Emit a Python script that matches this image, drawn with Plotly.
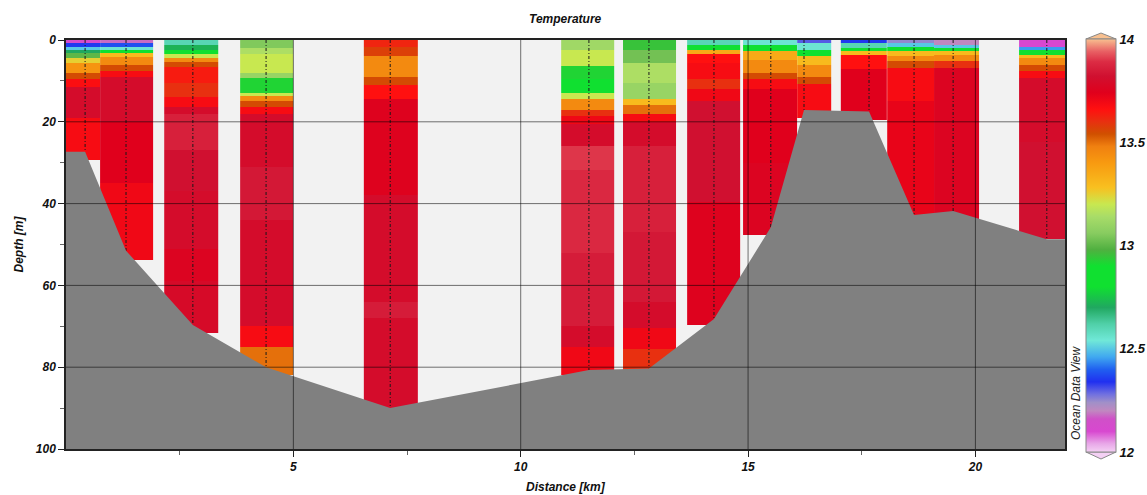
import plotly.graph_objects as go

# ---------------- data ----------------
stations_km = [0.42, 1.32, 2.79, 4.40, 7.13, 11.50, 12.82, 14.25, 15.50, 16.23, 17.66, 18.65, 19.51, 21.57]
bottom_m = [27.3, 51.5, 69.7, 80.0, 90.0, 80.7, 80.3, 68.2, 45.8, 17.1, 17.5, 42.8, 41.8, 48.7]
col_left_km = [0.0, 0.75, 2.16, 3.83, 6.55, 10.89, 12.25, 13.66, 14.89, 16.08, 17.04, 18.06, 19.09, 20.96]
col_right_km = [0.75, 1.91, 3.34, 4.99, 7.74, 12.05, 13.42, 14.82, 16.08, 16.82, 18.06, 19.09, 20.08, 21.97]

# layer boundaries (m) and temperatures (deg C) per station
s1_depth = [0, 0.8, 1.6, 2.4, 3.2, 4.4, 5.6, 8, 9.6, 11.6, 19, 29.3]
s1_temp = [12.12, 12.35, 12.5, 12.7, 13.0, 13.25, 13.42, 13.55, 13.67, 13.8, 13.68]
s2_depth = [0, 0.8, 1.6, 2.4, 3.2, 4.2, 6, 7.5, 9, 20, 35, 53.8]
s2_temp = [12.18, 12.38, 12.55, 12.9, 13.3, 13.45, 13.55, 13.68, 13.8, 13.74, 13.7]
s3_depth = [0, 1.2, 2.5, 3.5, 4.5, 5.5, 6.5, 10.5, 14, 16.5, 18, 27, 37, 51, 59, 71.6]
s3_temp = [12.6, 12.72, 12.9, 13.2, 13.45, 13.55, 13.64, 13.6, 13.68, 13.8, 13.86, 13.82, 13.8, 13.76, 13.79]
s4_depth = [0, 2, 3.5, 8, 9.2, 13, 13.8, 15, 16.3, 18, 31, 44, 55, 70, 75, 82]
s4_temp = [13.05, 13.15, 13.2, 13.1, 12.92, 13.2, 13.45, 13.55, 13.68, 13.8, 13.84, 13.8, 13.8, 13.68, 13.5]
s5_depth = [0, 1.6, 4, 9, 11, 14.4, 38, 64, 68, 90]
s5_temp = [13.62, 13.57, 13.45, 13.55, 13.66, 13.75, 13.8, 13.85, 13.8]
s6_depth = [0, 2.4, 6.4, 9.6, 12.9, 14.5, 17, 18.6, 20.6, 26, 31.7, 52, 70, 75, 82]
s6_temp = [13.12, 13.2, 12.92, 12.85, 13.2, 13.45, 13.6, 13.7, 13.8, 13.9, 13.88, 13.85, 13.8, 13.7]
s7_depth = [0, 2.4, 5.6, 10.5, 14.5, 16, 18, 20, 26, 47, 64, 70.5, 75.5, 81]
s7_temp = [12.95, 13.03, 13.15, 13.1, 13.3, 13.5, 13.68, 13.8, 13.86, 13.84, 13.8, 13.7, 13.6]
s8_depth = [0, 1.2, 2.4, 3.5, 5.6, 9.6, 12, 15, 39.5, 69.7]
s8_temp = [12.6, 12.9, 13.35, 13.66, 13.68, 13.6, 13.7, 13.82, 13.75]
s9_depth = [0, 1.2, 2.8, 4.8, 8, 9.6, 12, 30, 47.7]
s9_temp = [12.55, 12.9, 13.35, 13.45, 13.55, 13.68, 13.74, 13.76]
s10_depth = [0, 0.8, 2.4, 4, 6, 9, 10.8, 19]
s10_temp = [12.3, 12.55, 12.9, 13.3, 13.45, 13.55, 13.68]
s11_depth = [0, 0.8, 2, 2.8, 3.6, 7, 19.6]
s11_temp = [12.35, 12.6, 12.9, 13.3, 13.66, 13.74]
s12_depth = [0, 0.8, 1.6, 2.8, 4, 5.2, 6.8, 15, 45]
s12_temp = [12.25, 12.5, 12.9, 13.3, 13.45, 13.55, 13.68, 13.72]
s13_depth = [0, 1.2, 2, 2.8, 3.6, 5.2, 6.8, 45]
s13_temp = [12.2, 12.5, 12.9, 13.3, 13.45, 13.6, 13.76]
s14_depth = [0, 1.6, 2.4, 3.6, 4.4, 6, 7.6, 9.2, 25, 48.7]
s14_temp = [12.1, 12.45, 12.9, 13.3, 13.45, 13.55, 13.68, 13.8, 13.82]

profile_depths = [s1_depth, s2_depth, s3_depth, s4_depth, s5_depth, s6_depth, s7_depth,
                  s8_depth, s9_depth, s10_depth, s11_depth, s12_depth, s13_depth, s14_depth]
profile_temps = [s1_temp, s2_temp, s3_temp, s4_temp, s5_temp, s6_temp, s7_temp,
                 s8_temp, s9_temp, s10_temp, s11_temp, s12_temp, s13_temp, s14_temp]

x_ticks = [5, 10, 15, 20]
x_minor = [2.5, 7.5, 12.5, 17.5]
y_ticks = [0, 20, 40, 60, 80, 100]
y_minor = [10, 30, 50, 70, 90]
cbar_ticks = [12, 12.5, 13, 13.5, 14]
X_RANGE = [0, 21.97]

odv = [
    [0.00, '#f4d0f4'], [0.02, '#e8a8e8'], [0.05, '#d848d0'], [0.08, '#d050c8'],
    [0.10, '#c088c0'], [0.12, '#a090c8'], [0.14, '#7070e0'], [0.17, '#2030f0'],
    [0.20, '#2060f0'], [0.23, '#40a8f0'], [0.27, '#70e8d8'], [0.31, '#50d0a8'],
    [0.35, '#20a860'], [0.40, '#10e030'], [0.45, '#10e030'], [0.49, '#50b040'],
    [0.53, '#88cc60'], [0.57, '#a8dc68'], [0.60, '#c8e850'], [0.64, '#f8c020'],
    [0.70, '#f89a10'], [0.74, '#f08010'], [0.77, '#d05000'], [0.80, '#e83010'],
    [0.83, '#ff1010'], [0.87, '#e0001c'], [0.91, '#d01030'], [0.945, '#dc2c44'],
    [0.97, '#e86064'], [1.00, '#f8c090'],
]

FONT = "Liberation Sans, Arial, Helvetica, sans-serif"
bi = dict(family=FONT, size=12, color='#111', weight='bold', style='italic')

fig = go.Figure()

# data columns
for left, right, dep, tmp in zip(col_left_km, col_right_km, profile_depths, profile_temps):
    fig.add_trace(go.Heatmap(
        x=[left, right], y=dep, z=[[t] for t in tmp],
        coloraxis='coloraxis', zsmooth=False, hoverinfo='skip'))

# station dotted lines
sx, sy = [], []
for s, b in zip(stations_km, bottom_m):
    sx += [s, s, None]
    sy += [0, b, None]
fig.add_trace(go.Scatter(x=sx, y=sy, mode='lines',
                         line=dict(color='#1a1a1a', width=1, dash='3px,2px,1px,2px'), hoverinfo='skip'))

# bottom topography
bx = [X_RANGE[0]] + stations_km + [X_RANGE[1], X_RANGE[1], X_RANGE[0]]
by = [bottom_m[0]] + bottom_m + [bottom_m[-1], 100, 100]
fig.add_trace(go.Scatter(x=bx, y=by, mode='lines', fill='toself', fillcolor='#808080',
                         line=dict(width=0, color='#808080'), hoverinfo='skip'))

# grid lines above data
shapes = []
for t in x_ticks:
    shapes.append(dict(type='line', xref='x', yref='y', x0=t, x1=t, y0=0, y1=100,
                       line=dict(color='rgba(0,0,0,0.55)', width=1), layer='above'))
for t in y_ticks[1:-1]:
    shapes.append(dict(type='line', xref='x', yref='y', x0=X_RANGE[0], x1=X_RANGE[1], y0=t, y1=t,
                       line=dict(color='rgba(0,0,0,0.55)', width=1), layer='above'))

# colorbar geometry (paper coords)
cb_x0 = (1086 - 66) / 999
cb_x1 = (1116 - 66) / 999
cb_xm = (cb_x0 + cb_x1) / 2
top_base = (449 - 39) / 409
top_tip = (449 - 33) / 409
bot_base = (449 - 452) / 409
bot_tip = (449 - 459) / 409
shapes.append(dict(type='path', xref='paper', yref='paper',
                   path=f'M {cb_x0},{top_base} L {cb_xm},{top_tip} L {cb_x1},{top_base} Z',
                   fillcolor='#f8c090', line=dict(color='#888', width=1), layer='above'))
shapes.append(dict(type='path', xref='paper', yref='paper',
                   path=f'M {cb_x0},{bot_base} L {cb_xm},{bot_tip} L {cb_x1},{bot_base} Z',
                   fillcolor='#f4d0f4', line=dict(color='#888', width=1), layer='above'))

fig.update_layout(
    width=1147, height=495,
    margin=dict(l=66, r=82, t=40, b=46, autoexpand=False),
    paper_bgcolor='white', plot_bgcolor='#f2f2f2',
    showlegend=False,
    shapes=shapes,
    coloraxis=dict(
        colorscale=odv, cmin=12, cmax=14,
        colorbar=dict(
            x=cb_x0, xanchor='left', y=(449 - 245.5) / 409, yanchor='middle',
            len=(452 - 39) / 409, lenmode='fraction', thickness=30, thicknessmode='pixels',
            outlinecolor='#888', outlinewidth=1, xpad=0, ypad=0,
            tickvals=cbar_ticks, ticktext=[f'{v:g}' for v in cbar_ticks],
            ticks='', tickfont=dict(bi, size=13),
        ),
    ),
    xaxis=dict(range=X_RANGE, tickvals=x_ticks, ticks='outside', ticklen=6, tickcolor='#222',
               showgrid=False, zeroline=False, showline=True, linecolor='#222', linewidth=1.5,
               mirror=True, tickfont=bi,
               minor=dict(tickvals=x_minor, ticks='outside', ticklen=4, tickcolor='#666', showgrid=False)),
    yaxis=dict(range=[100, 0], tickvals=y_ticks, ticks='outside', ticklen=6, tickcolor='#222',
               showgrid=False, zeroline=False, showline=True, linecolor='#222', linewidth=1.5,
               mirror=True, tickfont=bi,
               minor=dict(tickvals=y_minor, ticks='outside', ticklen=4, tickcolor='#666', showgrid=False)),
    annotations=[
        dict(text='Temperature', xref='paper', yref='paper', x=0.5, y=(449 - 19) / 409,
             showarrow=False, font=bi, xanchor='center', yanchor='middle'),
        dict(text='Distance [km]', xref='paper', yref='paper', x=0.5, y=(449 - 487) / 409,
             showarrow=False, font=bi, xanchor='center', yanchor='middle'),
        dict(text='Depth [m]', xref='paper', yref='paper', x=(18 - 66) / 999, y=0.5,
             showarrow=False, font=bi, textangle=-90, xanchor='center', yanchor='middle'),
        dict(text='Ocean Data View', xref='paper', yref='paper', x=(1076 - 66) / 999,
             y=(449 - 393) / 409, showarrow=False, textangle=-90,
             font=dict(family=FONT, size=12, color='#222', style='italic'),
             xanchor='center', yanchor='middle'),
    ],
)

fig.write_html("out.html", config={'displayModeBar': False},
               post_script="document.body.style.margin='0';document.body.style.padding='0';"
                           "document.body.style.overflow='hidden';")
